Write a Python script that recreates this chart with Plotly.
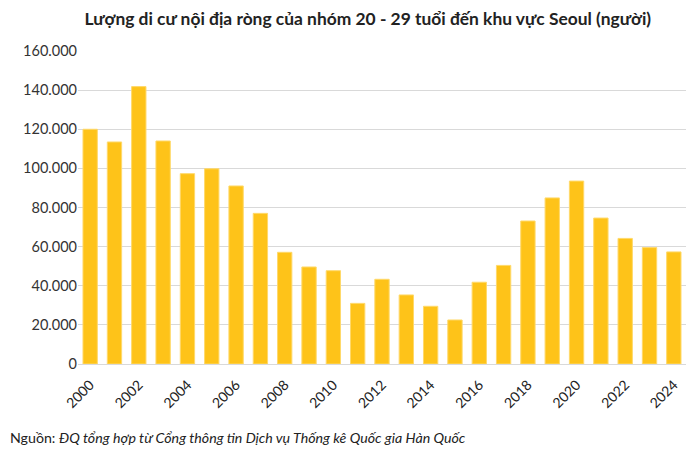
import plotly.graph_objects as go

years = list(range(2000, 2025))
values = [120000, 113500, 141800, 114000, 97300, 99800, 91000, 77000, 57100,
          49600, 47700, 31000, 43300, 35300, 29500, 22500, 41800, 50400,
          73100, 84900, 93500, 74600, 64200, 59500, 57300]
tick_years = list(range(2000, 2025, 2))
y_ticks = list(range(0, 160001, 20000))

title_text = "Lượng di cư nội địa ròng của nhóm 20 - 29 tuổi đến khu vực Seoul (người)"
source_text = "Nguồn: <i>ĐQ tổng hợp từ Cổng thông tin Dịch vụ Thống kê Quốc gia Hàn Quốc</i>"

fig = go.Figure(go.Bar(
    x=years, y=values,
    marker=dict(color="#FEC319", line=dict(color="#FFD96A", width=1)),
))

fig.update_layout(
    width=692, height=445,
    margin=dict(l=70, r=14, t=43, b=89, autoexpand=False),
    paper_bgcolor="white", plot_bgcolor="white",
    font=dict(family="Lato, sans-serif", color="#333333"),
    separators=",.",
    bargap=0.41,
    showlegend=False,
    title=dict(text="<b>" + title_text + "</b>", x=0.52, xanchor="center",
               y=0.975, yanchor="middle", font=dict(size=17.4, color="#222222")),
    xaxis=dict(range=[1999.5, 2024.5], tickvals=tick_years, tickangle=-45,
               tickfont=dict(size=14, color="#222222"), showgrid=False,
               showline=False, ticks="", automargin=False,
               ticklabelstandoff=9),
    yaxis=dict(range=[0, 160000], tickvals=y_ticks, tickformat=",d",
               tickfont=dict(size=14.5, color="#333333"),
               gridcolor="#D9D9D9", gridwidth=1, zeroline=True,
               zerolinecolor="#D9D9D9", zerolinewidth=1, ticks="", ticklen=0,
               automargin=False),
    annotations=[dict(text=source_text, xref="paper", yref="paper",
                      x=-0.115, xanchor="left", y=-0.236, yanchor="middle",
                      showarrow=False,
                      font=dict(size=14.2, color="#222222"))],
)

fig.write_html("out.html")
